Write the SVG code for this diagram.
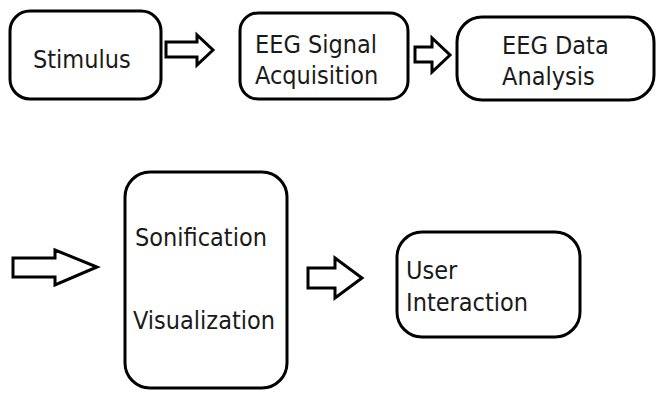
<svg xmlns="http://www.w3.org/2000/svg" width="657" height="398" viewBox="0 0 657 398">
  <style>
    .box { fill: #ffffff; stroke: #000000; stroke-width: 3; }
    .arrow { fill: #ffffff; stroke: #000000; stroke-width: 3; stroke-linejoin: miter; }
    .label { font-family: "DejaVu Sans Condensed", "DejaVu Sans", Verdana, sans-serif; font-stretch: condensed; font-size: 25px; fill: #1a1a1a; }
  </style>
  <rect width="657" height="398" fill="#ffffff"/>

  <g id="stimulus">
    <rect class="box" x="10" y="11" width="151" height="88" rx="20" ry="20"/>
    <text class="label" x="33" y="68">Stimulus</text>
  </g>

  <g id="eeg-signal-acquisition">
    <rect class="box" x="240" y="13" width="168" height="86" rx="18" ry="18"/>
    <text class="label" x="255" y="53">EEG Signal</text>
    <text class="label" x="255" y="84">Acquisition</text>
  </g>

  <g id="eeg-data-analysis">
    <rect class="box" x="457" y="17" width="197" height="83" rx="25" ry="25"/>
    <text class="label" x="502" y="54">EEG Data</text>
    <text class="label" x="502" y="85">Analysis</text>
  </g>

  <g id="sonification-visualization">
    <rect class="box" x="125" y="172" width="162" height="216" rx="25" ry="25"/>
    <text class="label" x="135" y="246">Sonification</text>
    <text class="label" x="133" y="329">Visualization</text>
  </g>

  <g id="user-interaction">
    <rect class="box" x="397" y="232" width="183" height="105" rx="25" ry="25"/>
    <text class="label" x="406" y="279">User</text>
    <text class="label" x="406" y="311">Interaction</text>
  </g>

  <g id="connectors">
    <polygon class="arrow" points="166,42 197,42 197,35 213,50 197,65 197,57 166,57"/>
    <polygon class="arrow" points="415,47 432,47 432,38 450,55 432,72 432,62 415,62"/>
    <polygon class="arrow" points="13,258 55,258 55,250 97,267 55,285 55,277 13,277"/>
    <polygon class="arrow" points="308,268 335,268 335,258 362,278 335,298 335,288 308,288"/>
  </g>
</svg>
